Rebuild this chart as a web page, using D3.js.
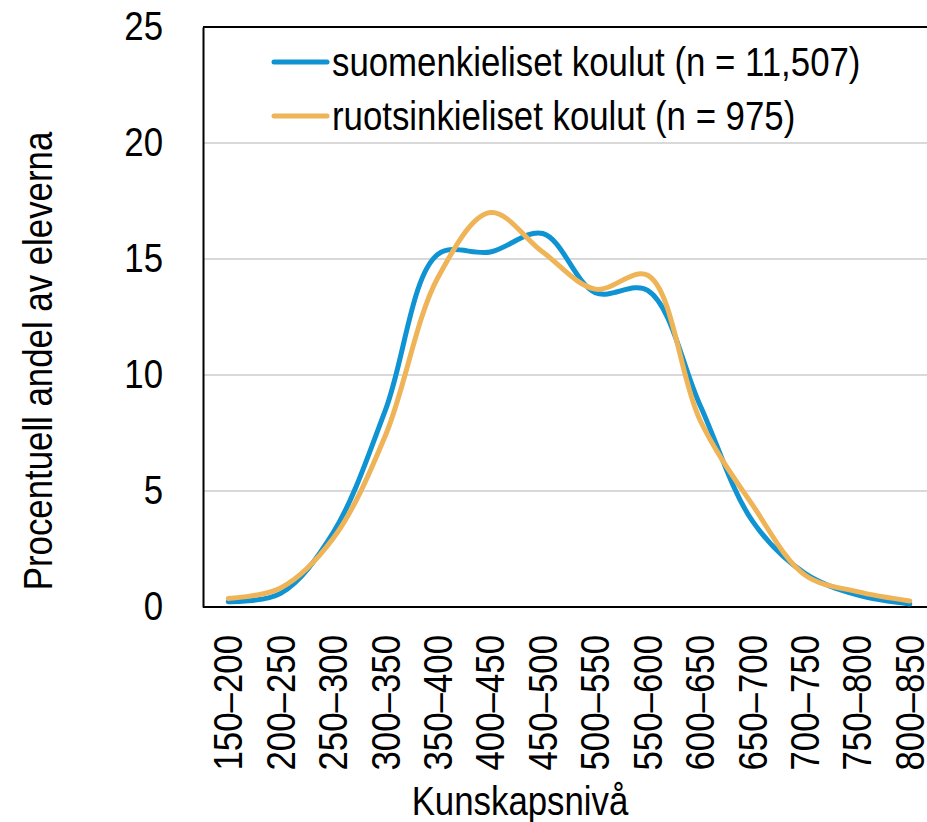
<!DOCTYPE html>
<html>
<head>
<meta charset="utf-8">
<script src="https://cdn.jsdelivr.net/npm/d3@7"></script>
<style>
  body { margin: 0; background: #fff; }
  svg text { font-family: "Liberation Sans", Arial, sans-serif; fill: #000; }
</style>
</head>
<body>
<div id="chart"></div>
<script>
var categories = ["150–200", "200–250", "250–300", "300–350", "350–400", "400–450", "450–500",
                  "500–550", "550–600", "600–650", "650–700", "700–750", "750–800", "800–850"];
var finnish = [0.23, 0.59, 3.2, 8.5, 15.2, 15.3, 16.1, 13.55, 13.65, 8.7, 3.7, 1.45, 0.52, 0.13];
var swedish = [0.37, 0.82, 2.95, 7.4, 14.2, 17.0, 15.3, 13.7, 14.3, 8.05, 4.4, 1.38, 0.66, 0.26];
var yTicks = [0, 5, 10, 15, 20, 25];
var seriesNames = ["suomenkieliset koulut (n = 11,507)", "ruotsinkieliset koulut (n = 975)"];
var colors = ["#0f93d2", "#eeb457"];

var W = 927, H = 822;
var plotLeft = 203, plotTop = 27, plotBottom = 607;

var svg = d3.select("#chart").append("svg")
    .attr("width", W)
    .attr("height", H);

var x = d3.scaleBand().domain(categories).range([202, 936]);
var y = d3.scaleLinear().domain([0, 25]).range([plotBottom, plotTop]);

// gridlines
svg.append("g")
  .selectAll("line")
  .data(yTicks.filter(function(d) { return d > 0 && d < 25; }))
  .enter().append("line")
    .attr("x1", plotLeft).attr("x2", W)
    .attr("y1", function(d) { return y(d); })
    .attr("y2", function(d) { return y(d); })
    .attr("stroke", "#d9d9d9")
    .attr("stroke-width", 2);

// top frame line
svg.append("line").attr("x1", plotLeft).attr("x2", W).attr("y1", plotTop).attr("y2", plotTop)
    .attr("stroke", "#000").attr("stroke-width", 2);

var yAxis = svg.append("g")
    .attr("transform", "translate(" + plotLeft + ",0)")
    .call(d3.axisLeft(y).tickValues(yTicks).tickSize(0).tickPadding(40));
yAxis.select(".domain").attr("stroke", "#000").attr("stroke-width", 2);
yAxis.selectAll("text").style("font-size", "40px");

var xAxis = svg.append("g")
    .attr("transform", "translate(0," + plotBottom + ")")
    .call(d3.axisBottom(x).tickSize(0));
xAxis.select(".domain").attr("stroke", "#000").attr("stroke-width", 2)
    .attr("d", "M" + plotLeft + ",0H" + W);
xAxis.selectAll("text")
    .style("font-size", "40px")
    .attr("transform", "rotate(-90)")
    .attr("text-anchor", "end")
    .attr("x", -28)
    .attr("y", 0)
    .attr("dy", "0.35em");

var line = d3.line()
    .x(function(d, i) { return x(categories[i]) + x.bandwidth() / 2; })
    .y(function(d) { return y(d); })
    .curve(d3.curveCatmullRom.alpha(0.5));

[finnish, swedish].forEach(function(s, i) {
  svg.append("path")
    .datum(s)
    .attr("fill", "none")
    .attr("stroke", colors[i])
    .attr("stroke-width", 5)
    .attr("stroke-linecap", "round")
    .attr("d", line);
});

// legend
var legend = svg.append("g");
seriesNames.forEach(function(name, i) {
  var ly = 62 + i * 54;
  legend.append("line")
    .attr("x1", 274).attr("x2", 327)
    .attr("y1", ly).attr("y2", ly)
    .attr("stroke", colors[i])
    .attr("stroke-width", 5)
    .attr("stroke-linecap", "round");
  legend.append("text")
    .attr("x", 332).attr("y", ly)
    .attr("dy", "0.35em")
    .style("font-size", "40px")
    .text(name);
});

svg.append("text")
    .attr("x", 520).attr("y", 815)
    .attr("text-anchor", "middle")
    .style("font-size", "40px")
    .text("Kunskapsnivå");

svg.append("text")
    .attr("transform", "translate(52,361) rotate(-90)")
    .attr("text-anchor", "middle")
    .style("font-size", "40px")
    .text("Procentuell andel av eleverna");

// the original uses a narrow face; squeeze the regular one to match
svg.selectAll("text").each(function() {
  var len = this.getComputedTextLength();
  d3.select(this)
    .attr("textLength", len * 0.87)
    .attr("lengthAdjust", "spacingAndGlyphs");
});
</script>
</body>
</html>
